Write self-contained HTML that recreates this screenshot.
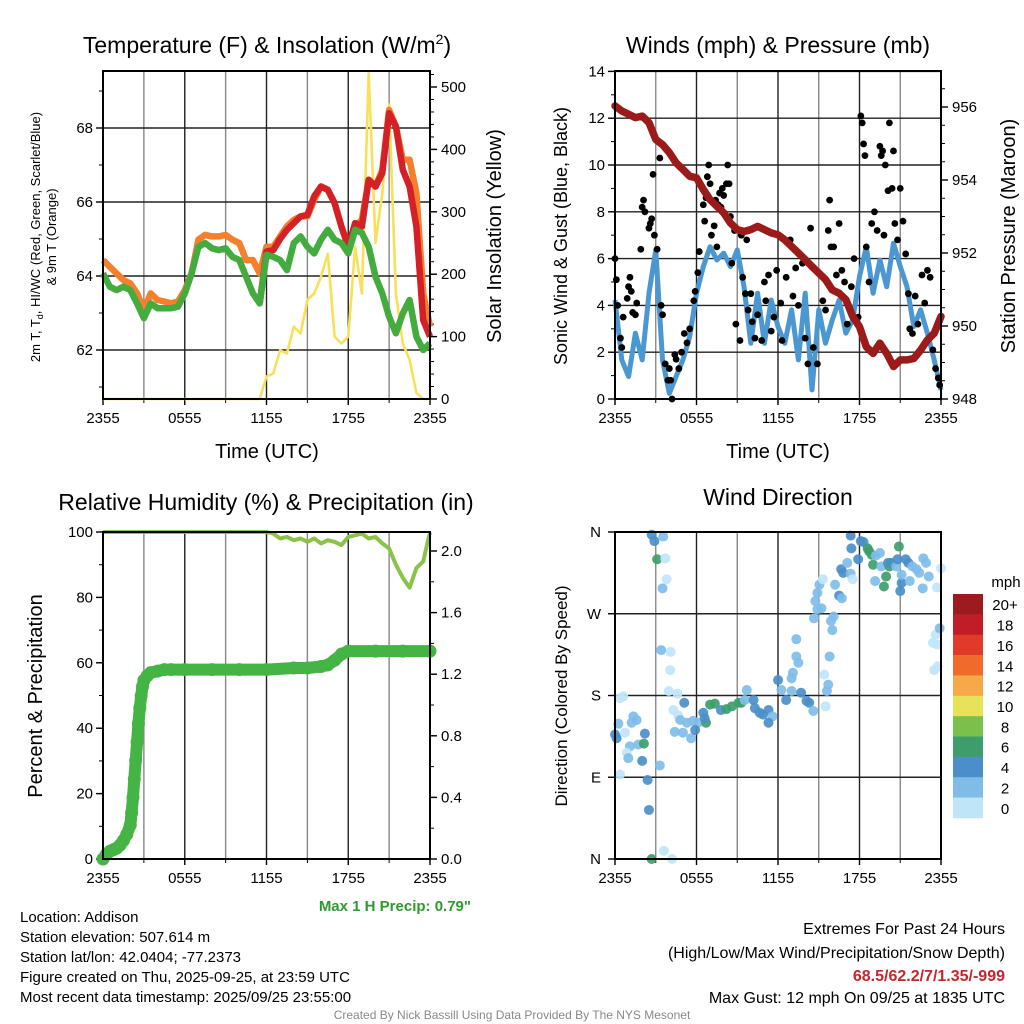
<!DOCTYPE html>
<html><head><meta charset="utf-8">
<style>
html,body{margin:0;padding:0;background:#fff;}
svg{display:block;font-family:"Liberation Sans",Arial,sans-serif;}
</style></head>
<body>
<svg id="fig" width="1024" height="1024" viewBox="0 0 1024 1024">
<rect width="1024" height="1024" fill="#fff"/>
<g id="static" font-family="Liberation Sans, sans-serif" fill="#000">
<text x="267" y="53" font-size="23" text-anchor="middle">Temperature (F) &amp; Insolation (W/m<tspan font-size="14" dy="-9">2</tspan><tspan dy="9">)</tspan></text>
<text x="778" y="53" font-size="23" text-anchor="middle">Winds (mph) &amp; Pressure (mb)</text>
<text x="266" y="510" font-size="23" text-anchor="middle">Relative Humidity (%) &amp; Precipitation (in)</text>
<text x="778" y="505" font-size="23" text-anchor="middle">Wind Direction</text>
<text transform="translate(40,237) rotate(-90)" font-size="13" text-anchor="middle">2m T, T<tspan font-size="9" dy="3">d</tspan><tspan dy="-3">, HI/WC (Red, Green, Scarlet/Blue)</tspan></text>
<text transform="translate(56,237) rotate(-90)" font-size="13" text-anchor="middle">&amp; 9m T (Orange)</text>
<text transform="translate(501,236) rotate(-90)" font-size="20" text-anchor="middle">Solar Insolation (Yellow)</text>
<text transform="translate(567,236) rotate(-90)" font-size="18" text-anchor="middle">Sonic Wind &amp; Gust (Blue, Black)</text>
<text transform="translate(1015,236) rotate(-90)" font-size="20" text-anchor="middle">Station Pressure (Maroon)</text>
<text transform="translate(42,696) rotate(-90)" font-size="20" text-anchor="middle">Percent &amp; Precipitation</text>
<text transform="translate(567,696) rotate(-90)" font-size="17" text-anchor="middle">Direction (Colored By Speed)</text>
<text x="267" y="458" font-size="20" text-anchor="middle">Time (UTC)</text>
<text x="778" y="458" font-size="20" text-anchor="middle">Time (UTC)</text>
<text x="471" y="911" font-size="15" font-weight="bold" fill="#2e9a2e" text-anchor="end">Max 1 H Precip: 0.79"</text>
<text x="1006" y="587" font-size="15" text-anchor="middle">mph</text>
<g font-size="15">
<text x="20" y="922">Location: Addison</text>
<text x="20" y="942">Station elevation: 507.614 m</text>
<text x="20" y="962">Station lat/lon: 42.0404; -77.2373</text>
<text x="20" y="982">Figure created on Thu, 2025-09-25, at 23:59 UTC</text>
<text x="20" y="1002">Most recent data timestamp: 2025/09/25 23:55:00</text>
</g>
<g font-size="16" text-anchor="end">
<text x="1005" y="934">Extremes For Past 24 Hours</text>
<text x="1005" y="958">(High/Low/Max Wind/Precipitation/Snow Depth)</text>
<text x="1005" y="981" fill="#c4262c" font-weight="bold">68.5/62.2/7/1.35/-999</text>
<text x="1005" y="1003">Max Gust: 12 mph On 09/25 at 1835 UTC</text>
</g>
<text x="512" y="1019" font-size="12" fill="#888" text-anchor="middle">Created By Nick Bassill Using Data Provided By The NYS Mesonet</text>
</g>
</svg>
<script>
// ---------- data ----------
const timeLabels = ["2355","0555","1155","1755","2355"];
const tempTicks = [62,64,66,68];
const solarTicks = [0,100,200,300,400,500];
const windTicks = [0,2,4,6,8,10,12,14];
const presTicks = [948,950,952,954,956];
const rhTicks = [0,20,40,60,80,100];
const precipTicks = [0.0,0.4,0.8,1.2,1.6,2.0];
const dirTicks = [0,90,180,270,360];
const dirTickLabels = ["N","E","S","W","N"];
const speedBins = ["0","2","4","6","8","10","12","14","16","18","20+"];
const speedColors = ["#bfe6f8","#7fbde8","#4a8fc8","#3d9e6c","#7cc04c","#e8e15a","#f7a94a","#f06a2c","#df3a2a","#c01d26","#9c1b1f"];

// half-hourly series (index * 0.5 h)
const temp9m = [64.43,64.25,64.07,63.89,63.80,63.53,63.08,63.53,63.35,63.31,63.26,63.31,63.62,64.07,64.98,65.11,65.07,65.07,65.11,64.98,64.89,64.43,64.43,64.07,64.79,64.79,65.07,65.34,65.52,65.61,65.61,66.06,66.42,66.33,65.97,65.34,64.79,65.34,65.52,66.6,66.42,66.87,68.49,68.04,67.14,67.14,66.24,63.53,62.63];
const temp2m = [64.07,63.71,63.62,63.71,63.62,63.26,62.86,63.26,63.13,63.13,63.13,63.17,63.53,64.07,64.79,64.89,64.75,64.70,64.75,64.52,64.43,63.98,63.53,63.26,64.57,64.52,64.43,64.16,64.89,65.07,64.79,64.61,64.98,65.25,64.98,64.89,64.61,65.25,65.16,64.79,63.98,63.53,62.9,62.45,62.99,63.35,62.36,62.0,62.18];
const heatIdxStart = 23;
const heatIdx = [63.26,64.66,64.7,65.0,65.25,65.43,65.61,65.65,66.15,66.42,66.33,65.97,65.34,64.79,65.43,65.34,66.6,66.42,66.78,68.4,68.04,66.87,66.42,65.34,62.81,62.36];
const solar = [0,0,0,0,0,0,0,0,0,0,0,0,0,0,0,0,0,0,0,0,0,0,0,0,36,41,78,73,116,105,159,169,196,233,100,89,100,244,169,522,250,330,472,169,89,63,10,0,0];
const windSpd = [4.23,1.67,0.96,2.81,1.67,4.52,6.37,1.67,0.24,0.96,1.67,2.67,4.52,5.66,6.51,5.94,6.23,5.66,6.37,4.8,2.38,4.52,2.38,4.23,3.09,2.38,3.81,1.67,4.52,0.39,3.81,2.38,3.38,4.23,2.81,3.38,5.23,6.51,4.52,5.94,4.8,6.66,5.66,4.8,3.09,3.81,2.81,1.67,0.39];
const pressure = [956.03,955.89,955.80,955.71,955.75,955.57,955.11,954.97,954.75,954.47,954.29,954.10,954.06,953.74,953.46,953.28,953.10,952.82,952.64,952.59,952.64,952.73,952.64,952.55,952.50,952.36,952.18,952.00,951.82,951.63,951.45,951.27,950.99,950.90,950.72,950.26,949.98,949.43,949.25,949.53,949.25,948.89,949.07,949.07,949.11,949.34,949.62,949.80,950.26];
const rh = [100,100,100,100,100,100,100,100,100,100,100,100,100,100,100,100,100,100,100,100,100,100,100,100,100,99.5,98,98.5,97.5,98,97,98,96.5,97.5,97,96,98.5,99,99.5,98,98.5,96.5,95,90,86,83,89,91,100];

const gustHours = [0.0,0.1,0.2,0.4,0.5,0.6,0.9,1.0,1.1,1.2,1.3,1.5,1.6,1.9,2.0,2.1,2.2,2.5,2.6,2.7,2.8,2.9,3.1,3.3,3.4,3.5,3.7,3.9,4.0,4.1,4.2,4.4,4.5,4.7,4.9,5.1,5.3,5.5,5.8,5.9,6.1,6.2,6.5,6.6,6.7,6.8,6.9,7.0,7.1,7.3,7.4,7.5,7.6,7.7,7.8,7.9,8.0,8.2,8.3,8.4,8.5,8.6,8.8,8.9,9.2,9.3,9.4,9.6,9.7,9.8,10.0,10.1,10.3,10.5,10.8,11.0,11.1,11.3,11.5,11.7,11.9,12.2,12.3,12.6,12.9,13.1,13.3,13.5,13.8,14.0,14.2,14.4,14.6,14.9,15.3,15.5,15.7,15.8,15.9,16.1,16.3,16.5,16.7,16.9,17.1,17.4,17.6,17.9,18.1,18.2,18.3,18.4,18.5,18.7,18.9,19.1,19.3,19.5,19.6,19.7,19.8,19.9,20.1,20.2,20.4,20.5,20.6,20.8,21.0,21.2,21.4,21.6,21.7,21.9,22.1,22.3,22.6,22.8,23.0,23.2,23.4,23.6,23.8,23.9];
const gustVals = [6.0,5.1,4.0,2.6,2.2,3.5,4.3,4.8,5.2,4.6,3.7,3.6,4.1,6.4,8.2,8.5,8.0,7.3,7.5,7.7,9.6,7.0,6.4,10.3,4.0,3.6,1.5,0.8,1.3,0.8,0.0,1.9,1.7,1.3,2.0,2.8,2.4,3.0,4.2,4.6,5.4,6.3,8.3,7.6,8.6,9.5,10.0,9.2,7.0,7.4,8.5,6.5,8.3,8.8,8.2,9.0,8.7,9.2,10.0,9.2,7.8,5.8,7.2,3.2,2.5,7.0,5.2,4.5,6.8,3.8,4.5,3.3,2.6,3.6,2.5,5.0,4.2,5.3,2.9,3.5,5.5,4.1,2.5,5.2,6.8,4.4,5.6,4.0,5.8,2.6,1.5,7.3,2.2,1.5,4.2,3.8,7.2,8.5,6.5,6.5,5.3,7.5,5.5,5.0,3.2,4.8,6.0,3.5,12.1,11.8,10.9,10.4,6.5,5.0,7.5,8.0,7.2,10.8,10.4,10.6,7.0,10.0,8.9,11.8,9.0,10.6,7.5,6.8,9.0,7.6,6.2,4.5,3.0,2.8,4.4,3.2,5.3,4.1,5.5,5.2,2.1,1.3,0.9,0.6];

const precipHours = [0,0.25,0.5,0.75,1,1.25,1.5,1.75,2.0,2.1,2.2,2.3,2.4,2.5,2.6,2.7,2.8,2.9,3.0,3.25,3.5,4,4.5,5,6,8,10,12,14,15,16,16.5,17,17.5,18,20,22,24];
const precipVals = [0,0.03,0.05,0.06,0.07,0.09,0.12,0.16,0.22,0.3,0.4,0.52,0.64,0.76,0.88,0.98,1.06,1.12,1.16,1.19,1.21,1.22,1.23,1.23,1.23,1.23,1.23,1.23,1.24,1.24,1.25,1.26,1.29,1.33,1.35,1.35,1.35,1.35];

const dirHours = [0,0.12,0.37,0.61,0.25,0.73,1.35,1.59,1.23,1.1,0.86,0.98,0.37,1.72,2.2,2.13,2.0,2.4,2.5,2.7,3.6,4.2,3.3,2.7,2.9,3.55,3.1,3.7,3.8,3.5,3.4,4.1,4.06,3.96,4.6,4.3,4.65,5.1,4.8,4.4,5.0,5.6,5.3,5.75,6.1,5.9,6.5,6.7,6.6,7.0,7.35,7.8,8.2,8.6,9.1,9.3,9.7,9.55,10.2,10.3,10.65,10.9,11.3,11.6,11.3,12.0,12.25,12.6,13.0,13.7,14.1,14.3,14.6,13.35,13.35,13.5,13.1,13.0,15.4,15.7,15.6,15.5,15.8,14.65,14.9,15.2,14.75,14.9,15.05,15.3,15.9,16.1,16.0,16.2,16.5,16.7,16.65,16.8,17.1,17.35,17.5,17.4,17.35,17.9,18.1,18.3,18.6,18.7,18.9,19.0,19.2,19.5,19.6,19.15,19.8,19.96,20.2,20.3,20.1,20.7,20.8,20.9,21.0,21.1,21.1,21.4,21.6,21.7,21.9,22.2,22.4,22.7,22.9,23.1,22.65,23.7,24.0,23.4,23.75,23.6,23.9,23.5,23.75];
const dirDegs = [137,133,177,179,149,139,157,153,150,124,117,111,93,126,138,127,108,87,54,0,9,0,103,357,350,355,330,331,308,298,230,228,208,185,182,164,158,172,153,140,139,133,150,152,150,142,161,150,155,170,171,164,165,168,172,172,186,175,175,166,161,159,164,157,150,197,186,175,185,183,174,172,163,242,223,216,205,199,203,192,185,168,223,265,275,276,284,293,302,308,262,267,252,302,290,287,319,315,326,314,308,342,356,330,350,349,342,339,335,324,334,337,322,306,300,311,322,326,326,322,330,344,295,304,313,330,326,306,322,319,315,331,326,311,298,299,320,238,236,247,254,208,212];
const dirSpeeds = [5,5,1,1,3,1,3,3,3,3,1,3,1,3,5,7,5,5,5,7,1,0.5,3,5,5,3,7,1,1,3,3,1,1,1,1,1,1,5,3,3,3,3,3,3,3,5,5,7,5,7,7,5,7,7,7,7,3,3,5,5,5,5,5,3,5,5,3,5,3,5,5,5,3,3,3,3,3,3,1,3,3,1,3,3,3,3,3,3,3,1,3,3,3,3,5,3,5,5,3,3,1,5,5,5,5,5,7,7,7,7,3,3,3,3,7,7,7,7,5,3,5,7,5,5,3,5,5,3,3,3,3,3,3,3,3,1,1,1,1,1,3,1,1];

// ---------- helpers ----------
const NS = "http://www.w3.org/2000/svg";
const svg = document.getElementById("fig");
function mk(tag, attrs, parent) {
  const e = document.createElementNS(NS, tag);
  for (const k in attrs) e.setAttribute(k, attrs[k]);
  (parent || svg).appendChild(e);
  return e;
}
function linScale(d0, d1, r0, r1) { return v => r0 + (v - d0) / (d1 - d0) * (r1 - r0); }
function pathFrom(xs, ys) {
  let d = "";
  for (let i = 0; i < xs.length; i++) d += (i ? "L" : "M") + xs[i].toFixed(1) + "," + ys[i].toFixed(1);
  return d;
}

const panels = {
  temp: {x0:103, x1:430, y0:71, y1:399},
  wind: {x0:615, x1:941, y0:71, y1:399},
  rh:   {x0:103, x1:430, y0:532, y1:859},
  dir:  {x0:615, x1:941, y0:532, y1:859}
};

function drawFrame(p, key, hLines) {
  const g = mk("g", {});
  
  
  const xs = linScale(0, 24, p.x0, p.x1);
  for (let h = 3; h < 24; h += 3) {
    const l = mk("line", {x1:xs(h), x2:xs(h), y1:p.y0, y2:p.y1, stroke: (h % 6 === 0) ? "#222" : "#888", "stroke-width": 1.4}, g);
    
    
  }
  hLines.forEach((y, i) => {
    const l = mk("line", {x1:p.x0, x2:p.x1, y1:y, y2:y, stroke: "#222", "stroke-width": 1.4}, g);
    
    
  });
  timeLabels.forEach((t, i) => {
    const x = xs(i * 6);
    mk("line", {x1:x, x2:x, y1:p.y1, y2:p.y1 + 6, stroke:"#000", "stroke-width":1.4}, g);
    const tx = mk("text", {x:x, y:p.y1 + 24, "font-size":15, "text-anchor":"middle"}, g);
    
    
    tx.textContent = t;
  });
  for (let h = 3; h < 24; h += 6) {
    mk("line", {x1:xs(h), x2:xs(h), y1:p.y1, y2:p.y1 + 4, stroke:"#000", "stroke-width":1}, g);
  }
  return {g, xs};
}
function border(p) {
  const r = mk("rect", {x:p.x0, y:p.y0, width:p.x1 - p.x0, height:p.y1 - p.y0, fill:"none", stroke:"#000", "stroke-width":2});
  
  
}
function leftAxis(p, ticks, scale, fmt, minorStep, lo, hi) {
  ticks.forEach(v => {
    const y = scale(v);
    mk("line", {x1:p.x0 - 7, x2:p.x0, y1:y, y2:y, stroke:"#000", "stroke-width":1.4});
    const t = mk("text", {x:p.x0 - 10, y:y + 5, "font-size":15, "text-anchor":"end"});
    
    
    t.textContent = fmt(v);
  });
  if (minorStep) for (let v = lo; v <= hi + 1e-9; v += minorStep) {
    const y = scale(v);
    if (y >= p.y0 - 0.5 && y <= p.y1 + 0.5) mk("line", {x1:p.x0 - 4, x2:p.x0, y1:y, y2:y, stroke:"#000", "stroke-width":1});
  }
}
function rightAxis(p, ticks, scale, fmt, minorStep, lo, hi) {
  ticks.forEach(v => {
    const y = scale(v);
    mk("line", {x1:p.x1, x2:p.x1 + 7, y1:y, y2:y, stroke:"#000", "stroke-width":1.4});
    const t = mk("text", {x:p.x1 + 11, y:y + 5, "font-size":15, "text-anchor":"start"});
    
    
    t.textContent = fmt(v);
  });
  if (minorStep) for (let v = lo; v <= hi + 1e-9; v += minorStep) {
    const y = scale(v);
    if (y >= p.y0 - 0.5 && y <= p.y1 + 0.5) mk("line", {x1:p.x1, x2:p.x1 + 4, y1:y, y2:y, stroke:"#000", "stroke-width":1});
  }
}
const halfHours = temp9m.map((_, i) => i * 0.5);

// ---------- Panel 1: temperature ----------
(function(){
  const p = panels.temp;
  const yT = linScale(62, 68, 350, 128);
  const yS = linScale(0, 500, 399, 87);
  const f = drawFrame(p, 'temp', tempTicks.map(yT));
  const xs = f.xs;
  leftAxis(p, tempTicks, yT, v => String(v), 1, 61, 69);
  rightAxis(p, solarTicks, yS, v => String(v), 20, 0, 520);
  const sol = mk("path", {d:pathFrom(halfHours.map(xs), solar.map(yS)), fill:"none", stroke:"#f9e05a", "stroke-width":2.6, "stroke-linejoin":"round"});
  
  
  const o = mk("path", {d:pathFrom(halfHours.map(xs), temp9m.map(yT)), fill:"none", stroke:"#f4802e", "stroke-width":6.5, "stroke-linejoin":"round"});
  
  
  const hiX = heatIdx.map((_, i) => xs((heatIdxStart + i) * 0.5));
  const r = mk("path", {d:pathFrom(hiX, heatIdx.map(yT)), fill:"none", stroke:"#d42027", "stroke-width":6.5, "stroke-linejoin":"round"});
  
  
  const gr = mk("path", {d:pathFrom(halfHours.map(xs), temp2m.map(yT)), fill:"none", stroke:"#44ab3e", "stroke-width":6.5, "stroke-linejoin":"round"});
  
  
  border(p);
})();

// ---------- Panel 2: winds ----------
(function(){
  const p = panels.wind;
  const yW = linScale(0, 14, 399, 71.4);
  const yP = linScale(948, 956, 399, 107);
  const f = drawFrame(p, 'wind', windTicks.slice(1).map(yW));
  const xs = f.xs;
  leftAxis(p, windTicks, yW, v => String(v), 1, 0, 14);
  rightAxis(p, presTicks, yP, v => String(v), 0.5, 948, 956.5);
  const b = mk("path", {d:pathFrom(halfHours.map(xs), windSpd.map(yW)), fill:"none", stroke:"#4a97d2", "stroke-width":5, "stroke-linejoin":"round"});
  
  
  gustHours.forEach((h, i) => {
    const c = mk("circle", {cx:xs(h), cy:yW(gustVals[i]), r:3.4, fill:"#000"});
    
    
  });
  const m = mk("path", {d:pathFrom(halfHours.map(xs), pressure.map(yP)), fill:"none", stroke:"#9b1b1b", "stroke-width":7.5, "stroke-linejoin":"round", "stroke-linecap":"round"});
  
  
  border(p);
})();

// ---------- Panel 3: RH & precip ----------
(function(){
  const p = panels.rh;
  const yR = linScale(0, 100, 859, 532);
  const yPr = linScale(0, 2.0, 859, 551);
  const f = drawFrame(p, 'rh', []);
  const xs = f.xs;
  leftAxis(p, rhTicks, yR, v => String(v), 10, 0, 100);
  rightAxis(p, precipTicks, yPr, v => v.toFixed(1), 0.2, 0, 2.2);
  const rl = mk("path", {d:pathFrom(halfHours.map(xs), rh.map(yR)), fill:"none", stroke:"#8cc24a", "stroke-width":4, "stroke-linejoin":"round"});
  
  
  const pl = mk("path", {d:pathFrom(precipHours.map(xs), precipVals.map(yPr)), fill:"none", stroke:"#44b444", "stroke-width":12, "stroke-linejoin":"round", "stroke-linecap":"round"});
  
  
  precipHours.forEach((h, i) => {
    const c = mk("circle", {cx:xs(h), cy:yPr(precipVals[i]), r:6.5, fill:"#44b444"});
    
    
  });
  border(p);
})();

// ---------- Panel 4: wind direction ----------
(function(){
  const p = panels.dir;
  const yD = linScale(0, 360, 859, 532);
  const f = drawFrame(p, 'dir', dirTicks.slice(1, 4).map(yD));
  const xs = f.xs;
  dirTicks.forEach((v, i) => {
    const y = yD(v);
    mk("line", {x1:p.x0 - 7, x2:p.x0, y1:y, y2:y, stroke:"#000", "stroke-width":1.4});
    const t = mk("text", {x:p.x0 - 14, y:y + 5, "font-size":15, "text-anchor":"end"});
    
    
    t.textContent = dirTickLabels[i];
  });
  dirHours.forEach((h, i) => {
    const bin = Math.min(10, Math.floor(dirSpeeds[i] / 2));
    const c = mk("circle", {cx:xs(h), cy:yD(dirDegs[i]), r:5, fill:speedColors[bin], "fill-opacity":0.92});
    
    
  });
  border(p);
  const cb = mk("g", {});
  
  
  const top = 594, bh = 20.36;
  speedBins.forEach((lab, i) => {
    const k = speedBins.length - 1 - i;
    const y = top + i * bh;
    const r = mk("rect", {x:953, y:y, width:30, height:bh + 0.3, fill:speedColors[k]}, cb);
    
    
    const t = mk("text", {x:1005, y:y + bh / 2 + 6, "font-size":15, "text-anchor":"middle"}, cb);
    
    
    t.textContent = speedBins[k];
  });
})();
</script>
</body></html>
